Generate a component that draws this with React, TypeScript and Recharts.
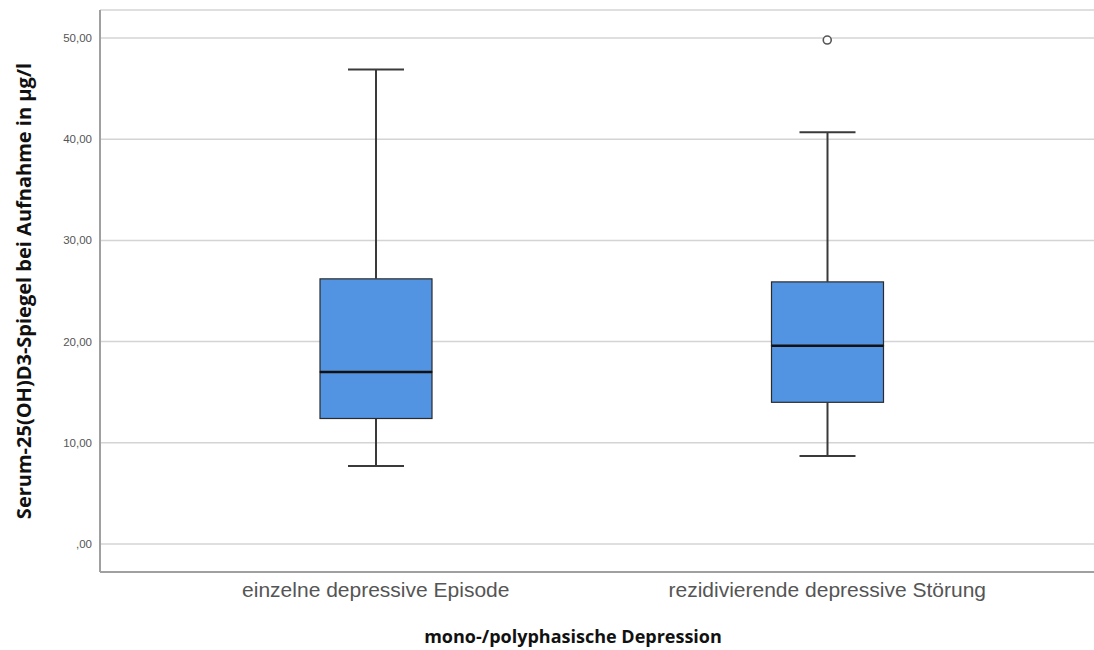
import React from 'react';
import { ComposedChart, Bar, Scatter, XAxis, YAxis, CartesianGrid, Label } from 'recharts';

const categories = ['einzelne depressive Episode', 'rezidivierende depressive Störung'];
const whiskerLow = [7.7, 8.7];
const q1 = [12.4, 14.0];
const median = [17.0, 19.6];
const q3 = [26.2, 25.9];
const whiskerHigh = [46.9, 40.7];
const outliers: (number | null)[] = [null, 49.8];
const yTicks = [0, 10, 20, 30, 40, 50];

const data = categories.map((name, i) => ({
  name,
  base: whiskerLow[i],
  lowWhisker: q1[i] - whiskerLow[i],
  boxLow: median[i] - q1[i],
  boxHigh: q3[i] - median[i],
  highWhisker: whiskerHigh[i] - q3[i],
  outlier: outliers[i],
}));

const BOX_FILL = '#5294e2';
const LINE = '#3a3a3a';

const Empty = () => <g />;

const LowWhisker = (p: any) => {
  const { x, y, width, height } = p;
  const cx = x + width / 2;
  return (
    <g>
      <line x1={cx} x2={cx} y1={y} y2={y + height} stroke={LINE} strokeWidth={2} />
      <line x1={cx - width / 4} x2={cx + width / 4} y1={y + height} y2={y + height} stroke={LINE} strokeWidth={2} />
    </g>
  );
};

const HighWhisker = (p: any) => {
  const { x, y, width, height } = p;
  const cx = x + width / 2;
  return (
    <g>
      <line x1={cx} x2={cx} y1={y} y2={y + height} stroke={LINE} strokeWidth={2} />
      <line x1={cx - width / 4} x2={cx + width / 4} y1={y} y2={y} stroke={LINE} strokeWidth={2} />
    </g>
  );
};

const BoxLow = (p: any) => {
  const { x, y, width, height } = p;
  return <rect x={x} y={y} width={width} height={height} fill={BOX_FILL} stroke="#2b2b2b" strokeWidth={1.2} />;
};

const BoxHigh = (p: any) => {
  const { x, y, width, height } = p;
  return (
    <g>
      <rect x={x} y={y} width={width} height={height} fill={BOX_FILL} stroke="#2b2b2b" strokeWidth={1.2} />
      <line x1={x} x2={x + width} y1={y + height} y2={y + height} stroke="#111" strokeWidth={2.5} />
    </g>
  );
};

const OutlierDot = (p: any) => {
  const { cx, cy, payload } = p;
  if (payload == null || payload.outlier == null || cx == null || cy == null || isNaN(cy)) return <g />;
  return <circle cx={cx} cy={cy} r={4} fill="#fff" stroke="#555" strokeWidth={1.6} />;
};

const fmt = (v: number) => (v === 0 ? ',00' : v.toFixed(2).replace('.', ','));

export default function App() {
  return (
    <div style={{ position: 'absolute', left: 0, top: 0, background: '#fff' }}>
      <ComposedChart
        width={1094}
        height={650}
        data={data}
        margin={{ top: 10, right: 0, bottom: 0, left: 0 }}
        barSize={112}
      >
        <CartesianGrid vertical={false} stroke="#d4d4d4" strokeWidth={1.5} />
        <XAxis
          dataKey="name"
          type="category"
          height={78}
          padding={{ left: 50, right: 41 }}
          axisLine={{ stroke: '#a0a0a0', strokeWidth: 2 }}
          tickLine={false}
          tick={{ fill: '#555', fontSize: 21, fontFamily: 'Liberation Sans, Arial, sans-serif' }}
          tickMargin={4}
        >
          <Label
            value="mono-/polyphasische Depression"
            position="insideBottom"
            offset={7}
            dx={-24}
            style={{ fill: '#111', fontSize: 18, fontWeight: 700, fontFamily: 'Open Sans, sans-serif' }}
          />
        </XAxis>
        <YAxis
          type="number"
          domain={[-2.77, 52.77]}
          ticks={yTicks}
          width={100}
          axisLine={{ stroke: '#a0a0a0', strokeWidth: 2 }}
          tickLine={false}
          tickFormatter={fmt}
          tick={{ fill: '#555', fontSize: 11.5, fontFamily: 'Liberation Sans, Arial, sans-serif' }}
          allowDataOverflow
        >
          <Label
            value="Serum-25(OH)D3-Spiegel bei Aufnahme in µg/l"
            angle={-90}
            position="insideLeft"
            offset={24}
            style={{ textAnchor: 'middle', fill: '#111', fontSize: 20, fontWeight: 700, fontFamily: 'Open Sans, sans-serif' }}
          />
        </YAxis>
        <Bar dataKey="base" stackId="box" shape={<Empty />} isAnimationActive={false} />
        <Bar dataKey="lowWhisker" stackId="box" shape={<LowWhisker />} isAnimationActive={false} />
        <Bar dataKey="boxLow" stackId="box" shape={<BoxLow />} isAnimationActive={false} />
        <Bar dataKey="boxHigh" stackId="box" shape={<BoxHigh />} isAnimationActive={false} />
        <Bar dataKey="highWhisker" stackId="box" shape={<HighWhisker />} isAnimationActive={false} />
        <Scatter dataKey="outlier" shape={<OutlierDot />} isAnimationActive={false} />
      </ComposedChart>
    </div>
  );
}
